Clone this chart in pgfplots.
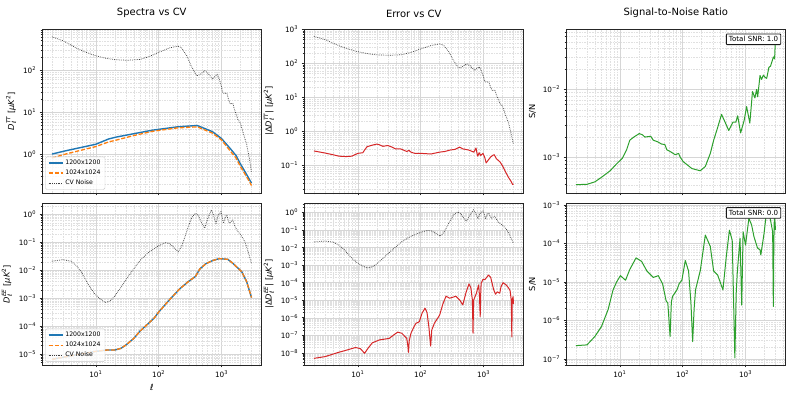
\documentclass[border=0pt]{standalone}
\usepackage{amsmath}
\usepackage{fontspec}
\setmainfont{DejaVu Sans}
\usepackage{pgfplots}
\pgfplotsset{compat=1.18}
\definecolor{cblue}{HTML}{1F77B4}
\definecolor{corange}{HTML}{FF7F0E}
\definecolor{cred}{HTML}{D62728}
\definecolor{cgreen}{HTML}{2CA02C}
\newcommand\dv[1]{\text{\itshape #1}}
\newcommand\logtick{\pgfmathtruncatemacro\myexp{round(\tick/ln(10))}10\textsuperscript{\ifnum\myexp<0 −\number-\myexp\else\myexp\fi}}
\newcommand\mkminor[3]{\gdef#1{}\foreach \k in {#2,...,#3}{\foreach \m in {2,...,9}{\xdef#1{#1\ifx#1\empty\else,\fi\m e\k}}}}
\mkminor\minX{0}{3}
\mkminor\minA{-1}{2}
\mkminor\minB{-6}{0}
\mkminor\minC{-2}{2}
\mkminor\minD{-9}{0}
\mkminor\minE{-4}{-2}
\mkminor\minF{-8}{-3}
\tikzset{
 sblue/.style={cblue, line width=1.4bp, line join=round},
 sorange/.style={corange, line width=1.3bp, dash pattern=on 4.2bp off 1.8bp, line join=round},
 scv/.style={black, draw opacity=0.75, line width=0.75bp, dash pattern=on 0.7bp off 1.1bp},
 sred/.style={cred, line width=1bp, line join=round},
 sgreen/.style={cgreen, line width=1bp, line join=round},
 snrbox/.style={draw=black!90, line width=0.8bp, fill=white, rounded corners=0.8bp, inner sep=2.6bp, anchor=north east, font=\fontsize{7.1}{8.2}\selectfont},
}
\pgfplotsset{legend image code/.code={\draw[#1] (0bp,0bp) -- (14bp,0bp);}}
\pgfplotsset{every axis/.append style={
  scale only axis, width=219.5bp, xmode=log, ymode=log,
  xmin=1.39, xmax=4325,
  tick pos=left, tick align=outside,
  major tick length=2.4bp, minor tick length=1.4bp,
  tick style={black!85, line width=0.5bp},
  axis line style={black!85, line width=0.6bp},
  grid=both,
  major grid style={black!16, line width=0.45bp},
  minor grid style={black!12, dash pattern=on 1.6bp off 1bp, line width=0.35bp},
  xtick={10,100,1000},
  minor xtick/.expand once={\minX},
  yticklabel=\logtick,
  tick label style={font=\fontsize{7.3}{8.4}\selectfont},
  ylabel style={font=\fontsize{8.3}{9.5}\selectfont},
  xlabel style={font=\fontsize{8.5}{9.5}\selectfont},
  title style={font=\fontsize{10}{12}\selectfont, yshift=2bp},
  legend style={at={(0.015,0.02)}, anchor=south west, font=\fontsize{6.2}{7.2}\selectfont,
    draw=black!22, rounded corners=1.5bp, fill=white, fill opacity=0.8, text opacity=1,
    inner xsep=2.5bp, inner ysep=1.2bp, row sep=0bp},
  legend cell align=left,
}}
\begin{document}
\begin{tikzpicture}
\useasboundingbox (0,0) rectangle (793bp,397bp);
% ---------- Panel 1 top ----------
\begin{axis}[height=163.7bp, xticklabels={}, at={(42bp,204bp)}, anchor=south west,
  ymin=0.123, ymax=933, ytick={1,10,100}, minor ytick/.expand once={\minA},
  title={Spectra vs CV}, ylabel={$\dv{D}_{\dv{ℓ}}^{\dv{TT}}$ [$\dv{μK}^{\text{2}}$]}]
\addplot[sblue] coordinates {(2,1.03)(3.3,1.23)(10,1.76)(16,2.35)(21,2.6)(39,3.1)(80,3.8)(200,4.55)(410,4.9)(716,3.5)(1000,2.4)(1400,1.35)(1700,0.95)(2000,0.6)(2500,0.34)(3000,0.21)};
\addlegendentry{1200x1200}
\addplot[sorange] coordinates {(2,0.83)(3.3,1.03)(10,1.55)(16,2.0)(21,2.2)(39,2.8)(80,3.57)(200,4.3)(410,4.55)(716,3.23)(1000,2.22)(1400,1.18)(1700,0.83)(2000,0.52)(2500,0.3)(3000,0.185)};
\addlegendentry{1024x1024}
\addplot[scv] coordinates {(2,620)(3,500)(5,330)(7,265)(10,220)(15,190)(20,178)(32,172)(50,180)(70,210)(100,265)(150,340)(200,370)(230,345)(280,220)(330,125)(400,74)(450,78)(540,97)(620,83)(716,62)(780,70)(850,79)(920,62)(1000,40)(1045,30)(1100,28)(1215,29)(1300,19.5)(1380,16)(1515,16.5)(1600,12)(1820,6.8)(2000,5.6)(2190,3.4)(2500,1.8)(2800,0.75)(3000,0.38)};
\addlegendentry{CV Noise}
\end{axis}
% ---------- Panel 1 bottom ----------
\begin{axis}[height=162bp, xticklabel=\logtick, at={(42bp,32bp)}, anchor=south west,
  ymin=4.07e-6, ymax=2.54, ytick={1e-5,1e-4,1e-3,1e-2,1e-1,1}, minor ytick/.expand once={\minB},
  xlabel={\itshape ℓ}, ylabel={$\dv{D}_{\dv{ℓ}}^{\dv{EE}}$ [$\dv{μK}^{\text{2}}$]}]
\addplot[sblue] coordinates {(2,6.5e-6)(5,9.5e-6)(10,1.25e-5)(15,1.4e-5)(20,1.4e-5)(25,1.6e-5)(30,2.1e-5)(40,3.6e-5)(50,6.5e-5)(84,1.9e-4)(100,3.2e-4)(150,9e-4)(218,0.0022)(300,0.004)(385,0.006)(450,0.011)(560,0.017)(716,0.022)(915,0.026)(1260,0.0245)(1500,0.018)(2100,0.0088)(2500,0.004)(3000,0.00105)};
\addlegendentry{1200x1200}
\addplot[sorange] coordinates {(2,6.5e-6)(5,9.5e-6)(10,1.25e-5)(15,1.4e-5)(20,1.4e-5)(25,1.6e-5)(30,2.1e-5)(40,3.6e-5)(50,6.5e-5)(84,1.9e-4)(100,3.2e-4)(150,9e-4)(218,0.0022)(300,0.004)(385,0.006)(450,0.011)(560,0.017)(716,0.022)(915,0.026)(1260,0.0245)(1500,0.018)(2100,0.0088)(2500,0.004)(3000,0.00105)};
\addlegendentry{1024x1024}
\addplot[scv] coordinates {(2,0.021)(3,0.024)(4,0.021)(5,0.014)(6,0.008)(8,0.0025)(10,0.0013)(12,0.0009)(14,0.0007)(17,0.0008)(20,0.0012)(25,0.0024)(30,0.0045)(40,0.011)(50,0.022)(70,0.045)(100,0.075)(126,0.096)(150,0.09)(180,0.06)(205,0.046)(230,0.07)(260,0.15)(300,0.4)(340,0.8)(385,1.09)(430,0.9)(480,0.5)(540,0.32)(600,0.7)(690,1.43)(750,0.9)(815,0.45)(880,0.9)(980,1.24)(1075,0.48)(1150,0.8)(1215,0.94)(1320,0.48)(1420,0.55)(1510,0.62)(1650,0.35)(1800,0.25)(2040,0.18)(2370,0.1)(2700,0.04)(3000,0.017)};
\addlegendentry{CV Noise}
\end{axis}
% ---------- Panel 2 top ----------
\begin{axis}[height=163.7bp, xticklabels={}, at={(304bp,204bp)}, anchor=south west,
  ymin=0.0158, ymax=1000, ytick={0.1,1,10,100,1000}, minor ytick/.expand once={\minC},
  title={Error vs CV}, ylabel={$\text{|Δ}\dv{D}_{\dv{ℓ}}^{\dv{TT}}\text{|}$ [$\dv{μK}^{\text{2}}$]}]
\addplot[scv] coordinates {(2,620)(3,500)(5,330)(7,265)(10,220)(15,190)(20,178)(32,172)(50,180)(70,210)(100,265)(150,340)(200,370)(230,345)(280,220)(330,125)(400,74)(450,78)(540,97)(620,83)(716,62)(780,70)(850,79)(920,62)(1000,40)(1045,30)(1100,28)(1215,29)(1300,19.5)(1380,16)(1515,16.5)(1600,12)(1820,6.8)(2000,5.6)(2190,3.4)(2500,1.8)(2800,0.75)(3000,0.42)};
\addplot[sred] coordinates {(2,0.27)(3,0.235)(4,0.21)(5,0.19)(6.5,0.185)(8,0.19)(10,0.23)(12,0.24)(13,0.3)(14,0.36)(17,0.4)(20,0.43)(22,0.41)(25,0.37)(30,0.39)(35,0.35)(40,0.31)(48,0.31)(55,0.28)(60,0.26)(65,0.28)(70,0.25)(80,0.23)(100,0.23)(146,0.22)(200,0.25)(240,0.26)(300,0.29)(350,0.3)(415,0.35)(470,0.31)(520,0.3)(570,0.29)(633,0.27)(700,0.25)(760,0.33)(790,0.22)(810,0.19)(850,0.24)(900,0.2)(980,0.23)(1050,0.17)(1100,0.12)(1200,0.15)(1300,0.18)(1400,0.2)(1480,0.21)(1600,0.16)(1820,0.13)(2000,0.1)(2300,0.06)(2500,0.045)(2760,0.034)(2900,0.028)(3000,0.029)};
\end{axis}
% ---------- Panel 2 bottom ----------
\begin{axis}[height=162bp, xticklabel=\logtick, at={(304bp,32bp)}, anchor=south west,
  ymin=2e-9, ymax=3.55, ytick={1e-8,1e-7,1e-6,1e-5,1e-4,1e-3,1e-2,1e-1,1}, minor ytick/.expand once={\minD},
  ylabel={$\text{|Δ}\dv{D}_{\dv{ℓ}}^{\dv{EE}}\text{|}$ [$\dv{μK}^{\text{2}}$]}]
\addplot[scv] coordinates {(2,0.021)(3,0.024)(4,0.021)(5,0.014)(6,0.008)(8,0.0025)(10,0.0013)(12,0.0009)(14,0.0007)(17,0.0008)(20,0.0012)(25,0.0024)(30,0.0045)(40,0.011)(50,0.022)(70,0.045)(100,0.075)(126,0.096)(150,0.09)(180,0.06)(205,0.046)(230,0.07)(260,0.15)(300,0.4)(340,0.8)(385,1.09)(430,0.9)(480,0.5)(540,0.32)(600,0.7)(690,1.43)(750,0.9)(815,0.45)(880,0.9)(980,1.24)(1075,0.48)(1150,0.8)(1215,0.94)(1320,0.48)(1420,0.55)(1510,0.62)(1650,0.35)(1800,0.25)(2040,0.18)(2370,0.1)(2700,0.04)(3000,0.017)};
\addplot[sred] coordinates {(2,4.8e-9)(3,6e-9)(4.7,1.0e-8)(7,1.5e-8)(9.2,2.0e-8)(11,1.7e-8)(12.8,9.3e-9)(14.5,1.8e-8)(17,3.7e-8)(22,5.4e-8)(31.5,6.6e-8)(38,1.1e-7)(43,1.5e-7)(50,1.3e-7)(57,8e-8)(60,6.6e-8)(62.5,2.5e-8)(64,1.05e-8)(65.5,4.5e-8)(70,1.3e-7)(78,3e-7)(84,4.8e-7)(95,5.9e-7)(105,1.8e-6)(117,3.5e-6)(126,2e-6)(135,3e-7)(144,2.4e-8)(150,2e-7)(165,4.8e-7)(200,1.4e-6)(225,6e-6)(253,1.7e-5)(288,1.3e-5)(330,1.5e-5)(363,1.7e-5)(420,1e-5)(467,5.4e-6)(530,3e-5)(587,8.5e-5)(630,5e-5)(665,1e-5)(680,1.3e-7)(695,1e-5)(770,2.5e-5)(835,7.4e-5)(860,2e-5)(885,1.15e-6)(900,2e-5)(915,9.3e-5)(980,1.55e-4)(1050,1.5e-4)(1200,2.75e-4)(1300,2e-4)(1450,4e-5)(1550,2.2e-5)(1650,3e-5)(1810,2.5e-5)(1900,6e-5)(2040,1e-4)(2300,7.4e-5)(2500,5e-5)(2650,3.5e-5)(2760,1e-5)(2820,8e-8)(2860,1e-5)(2950,1.6e-5)(3000,6e-6)};
\end{axis}
% ---------- Panel 3 top ----------
\begin{axis}[height=163.7bp, xticklabels={}, at={(566bp,204bp)}, anchor=south west,
  ymin=3.02e-4, ymax=0.0762, ytick={1e-3,1e-2}, minor ytick/.expand once={\minE},
  title={Signal-to-Noise Ratio}, ylabel={S/N}]
\addplot[sgreen] coordinates {(2,4.0e-4)(3,4.05e-4)(4,4.4e-4)(5.2,5.2e-4)(7,6.4e-4)(8.9,8.1e-4)(11,9.8e-4)(12.8,1.3e-3)(14.4,1.8e-3)(16.7,2.0e-3)(20.4,2.25e-3)(23,2.15e-3)(25,2.0e-3)(31,2.05e-3)(34,1.8e-3)(40,1.7e-3)(46,1.58e-3)(52,1.55e-3)(56,1.3e-3)(63,1.23e-3)(76,1.1e-3)(86,1.15e-3)(91,1.02e-3)(102,8.7e-4)(140,6.9e-4)(190,6.4e-4)(229,7.4e-4)(275,1.15e-3)(311,1.8e-3)(353,2.6e-3)(415,4.3e-3)(480,3.2e-3)(540,2.5e-3)(630,3.3e-3)(700,3.3e-3)(750,4.1e-3)(835,2.3e-3)(950,3.5e-3)(1040,5.6e-3)(1170,3.2e-3)(1290,9.3e-3)(1410,7.5e-3)(1500,1.0e-2)(1560,7.8e-3)(1700,1.6e-2)(1800,1.4e-2)(1920,1.62e-2)(2050,1.5e-2)(2170,1.45e-2)(2350,2.1e-2)(2500,2.2e-2)(2780,3.0e-2)(2900,2.8e-2)(3000,5.9e-2)};
\node[snrbox] at (rel axis cs:0.98,0.974) {Total SNR: 1.0};
\end{axis}
% ---------- Panel 3 bottom ----------
\begin{axis}[height=162bp, xticklabel=\logtick, at={(566bp,32bp)}, anchor=south west,
  ymin=6.9e-8, ymax=1.12e-3, ytick={1e-7,1e-6,1e-5,1e-4,1e-3}, minor ytick/.expand once={\minF},
  ylabel={S/N}]
\addplot[sgreen] coordinates {(2,2.2e-7)(3,2.3e-7)(4,3.8e-7)(5.1,6.9e-7)(6.5,1.9e-6)(7.8,6.2e-6)(8.9,1.0e-5)(10.2,1.45e-5)(12.3,1.1e-5)(14.4,2.1e-5)(18.1,4.2e-5)(22.2,3.4e-5)(27,1.9e-5)(34,1.3e-5)(41,1.45e-5)(48,8.7e-6)(54.5,3.2e-6)(58,2.8e-6)(63,3.8e-7)(66,3e-6)(69,4.2e-6)(81,6.2e-6)(88,9e-6)(97,1.1e-5)(110,3.6e-5)(124,1.9e-5)(135,3e-6)(144,2.8e-7)(152,2e-6)(160,6.2e-6)(191,2e-5)(229,1.65e-4)(275,8.3e-5)(311,1.9e-5)(360,1.5e-5)(437,6.2e-6)(494,4.6e-5)(554,2.2e-4)(614,1.2e-4)(676,1.05e-7)(710,5e-6)(740,1.8e-5)(817,1.35e-4)(870,2.5e-6)(915,2e-4)(1000,9e-5)(1130,4.5e-4)(1250,3e-4)(1360,1.5e-4)(1550,7.6e-5)(1700,6.8e-5)(1750,5e-5)(1970,1.8e-4)(2100,4.5e-4)(2290,7.4e-4)(2500,4e-4)(2700,2e-4)(2770,2.3e-6)(2820,1e-4)(2880,6e-4)(3000,2.2e-4)};
\node[snrbox] at (rel axis cs:0.98,0.974) {Total SNR: 0.0};
\end{axis}
\end{tikzpicture}
\end{document}
